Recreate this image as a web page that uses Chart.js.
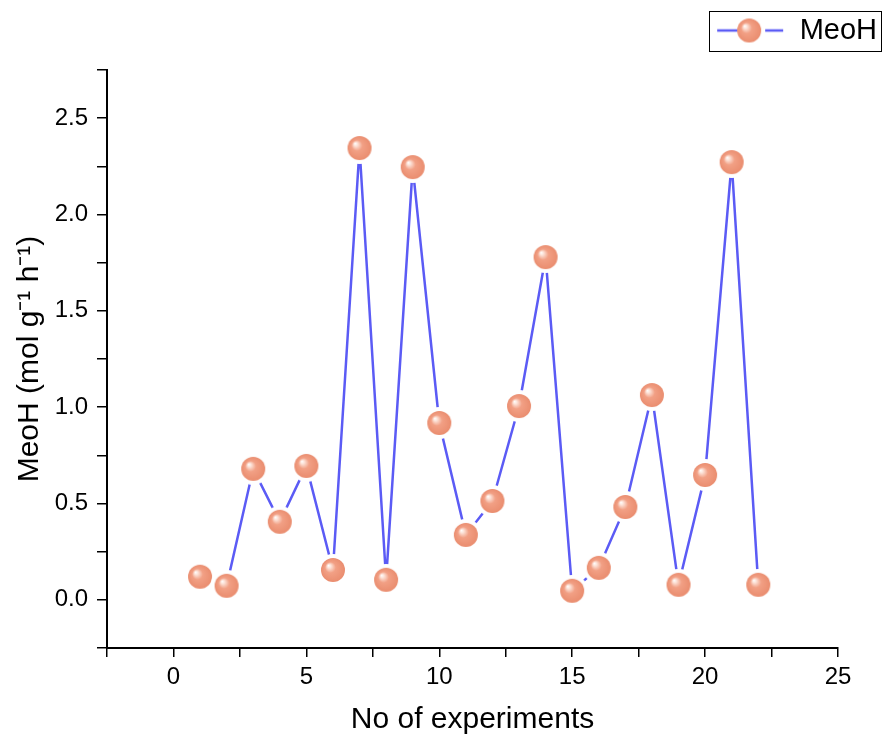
<!DOCTYPE html>
<html>
<head>
<meta charset="utf-8">
<script src="https://cdn.jsdelivr.net/npm/chart.js@4.4.1/dist/chart.umd.min.js"></script>
<style>
html,body{margin:0;padding:0;background:#fff;}
#wrap{width:884px;height:740px;position:relative;}
</style>
</head>
<body>
<div id="wrap"><canvas id="c" width="884" height="740"></canvas></div>
<script>
const experiments = [1,2,3,4,5,6,7,8,9,10,11,12,13,14,15,16,17,18,19,20,21,22];
const meohValues = [0.12,0.073,0.68,0.405,0.695,0.155,2.345,0.104,2.246,0.918,0.337,0.513,1.006,1.779,0.047,0.166,0.482,1.063,0.078,0.648,2.272,0.078];
const seriesName = 'MeoH';
const xTitle = 'No of experiments';
const yTitle = 'MeoH (mol g\u207B\u00B9 h\u207B\u00B9)';

const LINE = '#5b5bf5';
const FONT = '"Liberation Sans", Arial, sans-serif';

function drawSphere(ctx, cx, cy, r) {
  const g = ctx.createRadialGradient(cx - r*0.38, cy - r*0.38, 0, cx, cy, r);
  g.addColorStop(0, '#ffffff');
  g.addColorStop(0.15, '#fde4da');
  g.addColorStop(0.45, '#f2a085');
  g.addColorStop(1, '#ea8d6f');
  ctx.fillStyle = g;
  ctx.beginPath(); ctx.arc(cx, cy, r, 0, Math.PI*2); ctx.fill();
}
function makeMarker(r, ring) {
  const R = r + ring;
  const cv = document.createElement('canvas');
  cv.width = R*2; cv.height = R*2;
  const ctx = cv.getContext('2d');
  ctx.fillStyle = '#ffffff';
  ctx.beginPath(); ctx.arc(R, R, R, 0, Math.PI*2); ctx.fill();
  drawSphere(ctx, R, R, r);
  return cv;
}
function makeLegendSymbol() {
  const cv = document.createElement('canvas');
  cv.width = 70; cv.height = 26;
  const ctx = cv.getContext('2d');
  ctx.strokeStyle = LINE; ctx.lineWidth = 2.5;
  ctx.beginPath(); ctx.moveTo(2, 13); ctx.lineTo(22, 13); ctx.moveTo(50, 13); ctx.lineTo(68, 13); ctx.stroke();
  drawSphere(ctx, 34, 13, 12);
  return cv;
}
const marker = makeMarker(12, 4);
const legendSym = makeLegendSymbol();

const LEG_DX = 47, LEG_DY = -15;
const legendPlace = {
  id: 'legendPlace',
  afterLayout(chart) {
    const lg = chart.legend;
    if (!lg) return;
    lg.left += LEG_DX; lg.right += LEG_DX;
    lg.top += LEG_DY; lg.bottom += LEG_DY;
  },
  afterDraw(chart) {
    const lg = chart.legend;
    if (!lg || !lg.legendHitBoxes || !lg.legendHitBoxes.length) return;
    const hb = lg.legendHitBoxes[0];
    const ctx = chart.ctx;
    ctx.save();
    ctx.strokeStyle = '#000'; ctx.lineWidth = 1;
    ctx.strokeRect(Math.round(hb.left - 6) + 0.5, Math.round(hb.top + hb.height/2 - 20) + 0.5, Math.round(hb.width + 10), 40);
    ctx.restore();
  }
};

new Chart(document.getElementById('c'), {
  type: 'line',
  data: {
    datasets: [{
      label: seriesName,
      data: experiments.map((x, i) => ({x: x, y: meohValues[i]})),
      borderColor: LINE,
      borderWidth: 2.5,
      pointStyle: marker,
      pointRadius: 16,
      pointHoverRadius: 16,
      tension: 0,
      fill: false
    }]
  },
  options: {
    responsive: false,
    animation: false,
    events: [],
    layout: { padding: { left: 0, right: 46, top: 23, bottom: 0 } },
    plugins: {
      tooltip: { enabled: false },
      legend: {
        display: true,
        position: 'top',
        align: 'end',
        labels: {
          usePointStyle: true,
          pointStyleWidth: 70,
          font: { family: FONT, size: 29 },
          color: '#000',
          padding: 8,
          generateLabels: () => [{ text: seriesName, pointStyle: legendSym, fillStyle: 'transparent', strokeStyle: 'transparent', lineWidth: 0, datasetIndex: 0 }]
        }
      }
    },
    scales: {
      x: {
        type: 'linear',
        min: -2.5, max: 25,
        afterFit: (s) => { s.height = 92; },
        afterBuildTicks: (s) => { const t = []; for (let v = -2.5; v <= 25.001; v += 2.5) t.push({value: Math.round(v*10)/10}); s.ticks = t; },
        ticks: {
          autoSkip: false, maxRotation: 0,
          callback: (v) => (Math.abs(v % 5) < 1e-6 ? String(v) : ''),
          font: { family: FONT, size: 24 }, color: '#000', padding: 6
        },
        grid: { display: true, drawOnChartArea: false, drawTicks: true, tickLength: 9, color: '#000', lineWidth: 1.5 },
        border: { display: true, color: '#000', width: 2 },
        title: { display: true, text: xTitle, font: { family: FONT, size: 30 }, color: '#000', padding: { top: 4, bottom: 2 } }
      },
      y: {
        type: 'linear',
        min: -0.25, max: 2.75,
        afterFit: (s) => { s.width = 107; },
        afterBuildTicks: (s) => { const t = []; for (let v = -0.25; v <= 2.7501; v += 0.25) t.push({value: Math.round(v*100)/100}); s.ticks = t; },
        ticks: {
          autoSkip: false,
          callback: (v) => { const q = v / 0.5; return Math.abs(q - Math.round(q)) < 1e-6 ? v.toFixed(1) : ''; },
          font: { family: FONT, size: 24 }, color: '#000', padding: 9
        },
        grid: { display: true, drawOnChartArea: false, drawTicks: true, tickLength: 10, color: '#000', lineWidth: 1.5 },
        border: { display: true, color: '#000', width: 2 },
        title: { display: true, text: yTitle, font: { family: FONT, size: 30 }, color: '#000', padding: { top: 12, bottom: 4 } }
      }
    }
  },
  plugins: [legendPlace]
});
</script>
</body>
</html>
